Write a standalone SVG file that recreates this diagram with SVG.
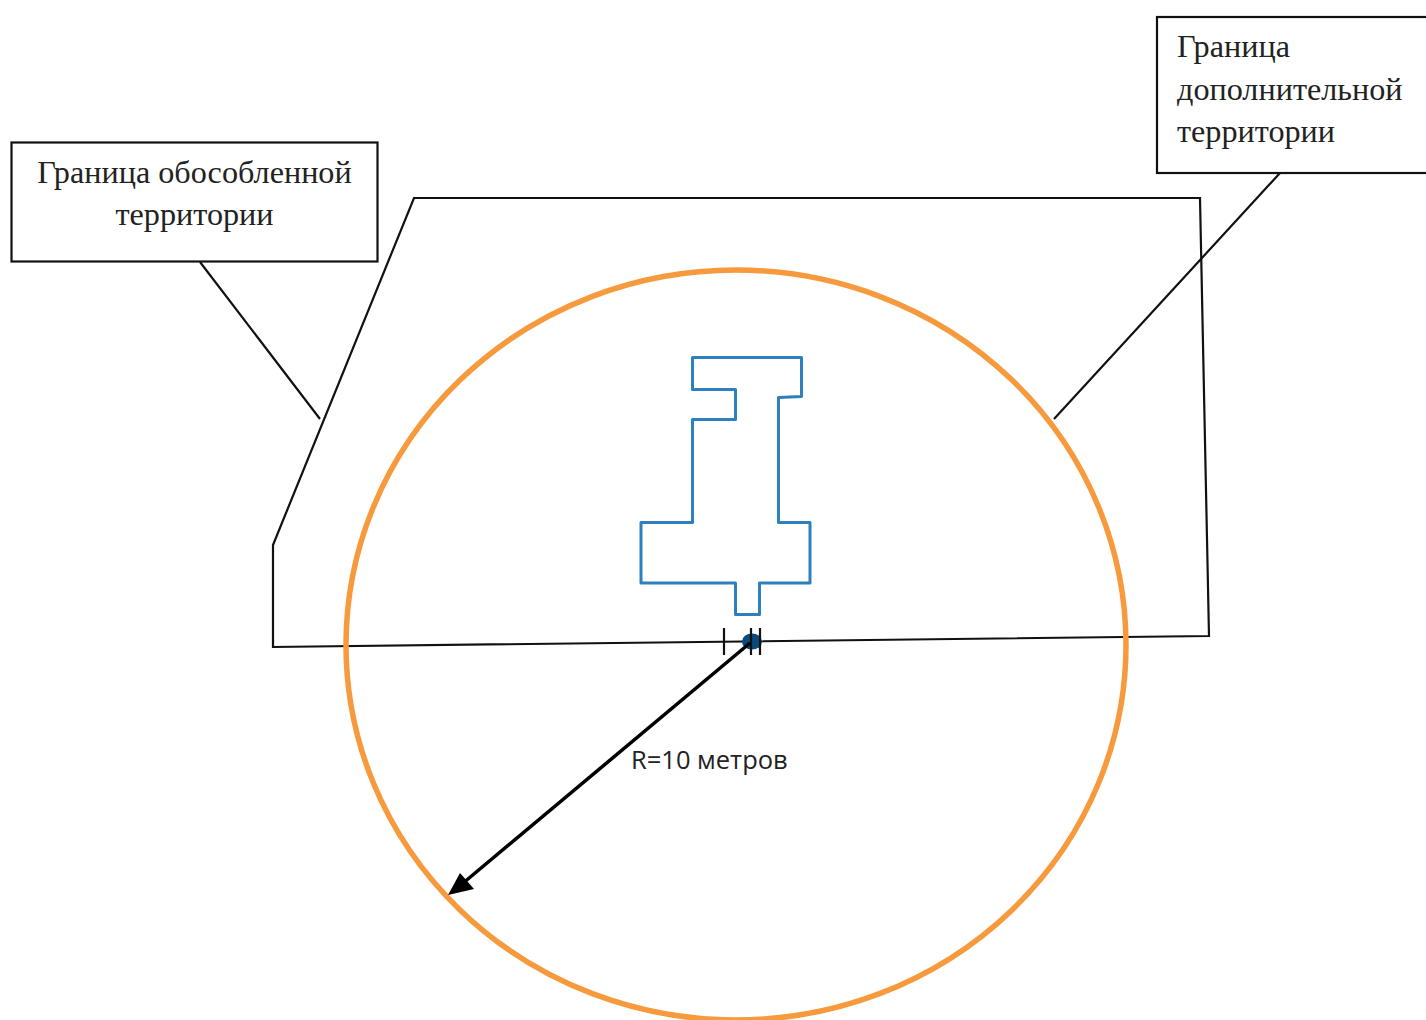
<svg xmlns="http://www.w3.org/2000/svg" width="1426" height="1020" viewBox="0 0 1426 1020">
<style>
.ln{fill:none;stroke:#111;stroke-width:2.200}
.box{fill:#fff;stroke:#111;stroke-width:2.200}
.t{font-family:"Liberation Serif",serif;font-size:32.200px;fill:#222}
</style>
<rect width="1426" height="1020" fill="#fff"/>
<g id="boundary"><path class="ln" d="M414 198H1200L1209 636L273 647V545Z"/></g>
<g id="circle"><ellipse cx="736" cy="645" rx="390" ry="375" fill="none" stroke="#f79a3e" stroke-width="5.500"/></g>
<g id="building"><path d="M692.500 357.500H801.500V396.500L778.500 397.500V522.500H810V583H759.500V614.500H735.500V583H641V522.500H692.500V419.500H735.500V389.500H692.500Z" fill="none" stroke="#2e7fbd" stroke-width="3" stroke-linejoin="round"/></g>
<g id="point"><ellipse cx="752" cy="641.500" rx="10" ry="8" fill="#0b4a7c"/></g>
<g id="connectors">
<path class="ln" d="M200 262L320 419M1280 173L1054 419"/>
<path class="ln" d="M724 628V655M751 628V655M760 628V655"/>
<path d="M750 643L462 884" fill="none" stroke="#000" stroke-width="3.500"/>
<path d="M448 895L460 873L474 889Z" fill="#000"/>
</g>
<g id="label-left"><rect class="box" x="11.500" y="142.500" width="366" height="119"/>
<text class="t" x="194.500" y="183" text-anchor="middle">Граница обособленной</text>
<text class="t" x="194.500" y="225" text-anchor="middle">территории</text></g>
<g id="label-right"><rect class="box" x="1157" y="17" width="275" height="156"/>
<text class="t" x="1177" y="57">Граница</text>
<text class="t" x="1177" y="100">дополнительной</text>
<text class="t" x="1177" y="142">территории</text></g>
<g id="radius-label"><text x="631" y="769" font-family="'Open Sans','Noto Sans',sans-serif" font-size="25.500" fill="#222">R=10 метров</text></g>
</svg>
